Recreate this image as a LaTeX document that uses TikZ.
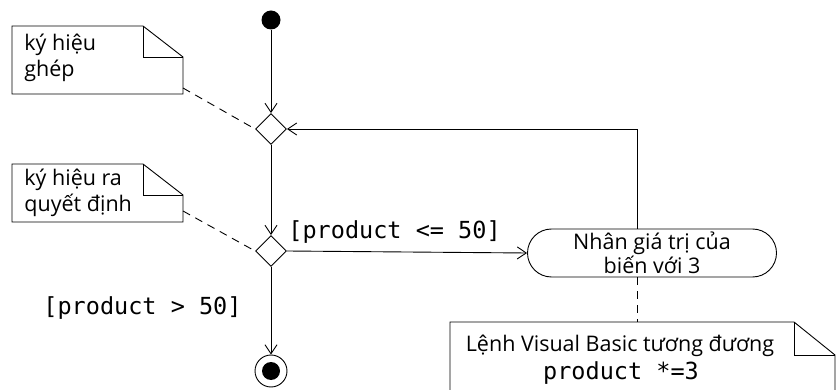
\documentclass[tikz,border=0pt]{standalone}
\usepackage{fontspec}
\setmainfont{Open Sans}
\setmonofont{DejaVu Sans Mono}
\usetikzlibrary{arrows.meta,shapes.geometric,shapes.misc,calc}
\begin{document}
\begin{tikzpicture}[x=1pt,y=-1pt,
  line width=0.9pt,
  arr/.style={-{Straight Barb[length=9pt,width=12pt,line width=0.9pt]}},
  dia/.style={diamond,draw,minimum width=31pt,minimum height=31pt,inner sep=0pt},
  sansf/.style={font=\fontsize{21.5}{26}\selectfont},
  notetxt/.style={sansf,align=left,anchor=base west,inner sep=0pt},
  code/.style={font=\ttfamily\fontsize{23.5}{26}\selectfont,inner sep=0pt},
  notedash/.style={dashed,dash pattern=on 8pt off 6pt}
]
\useasboundingbox (0,0) rectangle (836,390);
\clip (0,0) rectangle (836,390);

% activity nodes
\node[circle,fill,minimum size=19pt,inner sep=0pt] (start) at (271,20) {};
\node[dia] (merge) at (271,129) {};
\node[dia] (dec) at (271,251) {};
\node[circle,draw,minimum size=32pt,inner sep=0pt] (final) at (271,371) {};
\node[circle,fill,minimum size=18pt,inner sep=0pt] (finalin) at (271,371) {};
\node[rounded rectangle,draw,minimum width=249pt,minimum height=48pt,inner sep=0pt,
      font=\fontsize{21.5}{21}\selectfont,align=center] (act) at (652,253)
      {Nhân giá trị của\\ biến với 3};

% notes (text); base anchor = baseline of last line
\node[notetxt] (n1) at (24,77) {ký hiệu\\ghép};
\node[notetxt] (n2) at (24,212) {ký hiệu ra\\quyết định};
\node[sansf,inner sep=0pt,anchor=base] (n3) at (620,352) {Lệnh Visual Basic tương đương};
\node[code,anchor=base] (n3b) at (621,379) {product *=3};

% note outlines
\draw (12,26) -- (143,26) -- (183,57) -- (183,94) -- (12,94) -- cycle;
\draw (143,26) -- (143,57) -- (183,57);
\coordinate (n1c) at (183,88);

\draw (12,164) -- (143,164) -- (183,195) -- (183,222) -- (12,222) -- cycle;
\draw (143,164) -- (143,195) -- (183,195);
\coordinate (n2c) at (183,211);

\draw (450,322) -- (794,322) -- (835,355) -- (835,400) -- (450,400) -- cycle;
\draw (794,322) -- (794,355) -- (835,355);
\coordinate (n3c) at (637,322);

% guard labels
\node[code,anchor=base west] (g1) at (288,239) {[product <= 50]};
\node[code,anchor=base west] (g2) at (43,315) {[product > 50]};

% connectors
\draw[arr] (start) -- (merge.north);
\draw[arr] (merge.south) -- (dec.north);
\draw[arr] (dec.east) -- (act.west);
\draw[arr] (dec.south) -- (final.north);
\coordinate (lt) at ([xshift=-15pt]act.north);
\draw[arr] (lt) |- (merge.east);

\draw[notedash] (n1c) -- (merge.west);
\draw[notedash] (n2c) -- (dec.west);
\coordinate (lb) at ([xshift=-15pt]act.south);
\draw[notedash] (lb) -- (n3c);
\end{tikzpicture}
\end{document}
